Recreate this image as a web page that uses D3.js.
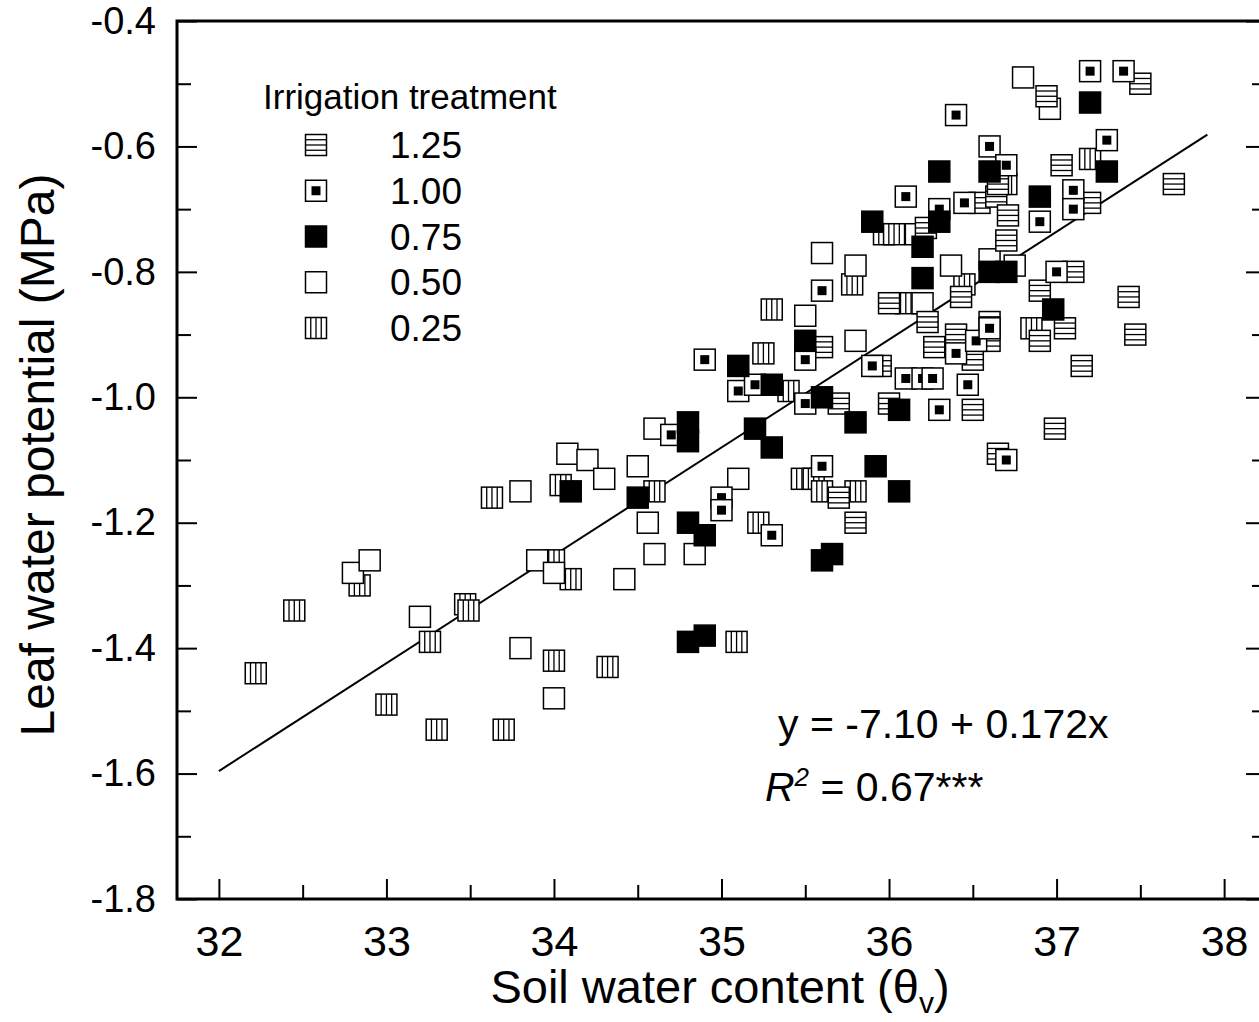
<!DOCTYPE html>
<html>
<head>
<meta charset="utf-8">
<script src="https://cdnjs.cloudflare.com/ajax/libs/d3/7.8.5/d3.min.js"></script>
<style>
  body { margin: 0; background: #fff; }
  svg { display: block; font-family: "Liberation Sans", Arial, Helvetica, sans-serif; }
</style>
</head>
<body>
<div class="chart"></div>
<script>
// soil water content (x) and leaf water potential (y), one array per treatment
var t125 = [[35.6,-0.92],[35.7,-1.01],[35.7,-1.16],[35.8,-1.20],[35.95,-0.95],[36.0,-0.85],[36.0,-1.01],
  [36.22,-0.73],[36.23,-0.88],[36.27,-0.92],[36.4,-0.90],[36.43,-0.84],[36.5,-0.94],[36.5,-1.02],
  [36.54,-0.69],[36.6,-0.88],[36.6,-0.91],[36.64,-0.68],[36.65,-0.66],[36.71,-0.71],[36.7,-0.75],
  [36.65,-1.09],[36.9,-0.83],[36.9,-0.91],[36.94,-0.52],[36.99,-1.05],[37.03,-0.63],[37.05,-0.89],
  [37.1,-0.80],[37.15,-0.95],[37.2,-0.69],[37.43,-0.84],[37.47,-0.90],[37.5,-0.50],[37.7,-0.66]];
var t100 = [[34.7,-1.06],[34.9,-0.94],[35.0,-1.16],[35.0,-1.18],[35.1,-0.99],[35.2,-0.98],[35.3,-1.22],
  [35.5,-0.94],[35.5,-1.01],[35.6,-0.83],[35.6,-1.11],[35.9,-0.95],[36.1,-0.68],[36.1,-0.97],
  [36.2,-0.97],[36.26,-0.97],[36.3,-0.70],[36.3,-1.02],[36.4,-0.55],[36.4,-0.93],[36.45,-0.69],
  [36.47,-0.98],[36.52,-0.91],[36.6,-0.60],[36.6,-0.89],[36.7,-0.63],[36.7,-1.10],[36.9,-0.72],
  [37.0,-0.80],[37.1,-0.67],[37.1,-0.70],[37.2,-0.48],[37.3,-0.59],[37.4,-0.48]];
var t075 = [[34.1,-1.15],[34.5,-1.16],[34.8,-1.04],[34.8,-1.07],[34.8,-1.20],[34.8,-1.39],[34.9,-1.22],
  [34.9,-1.38],[35.1,-0.95],[35.2,-1.05],[35.3,-0.98],[35.3,-1.08],[35.5,-0.91],[35.6,-1.00],
  [35.6,-1.26],[35.66,-1.25],[35.8,-1.04],[35.9,-0.72],[35.92,-1.11],[36.06,-1.02],[36.06,-1.15],
  [36.2,-0.76],[36.2,-0.81],[36.3,-0.64],[36.3,-0.72],[36.6,-0.64],[36.6,-0.80],[36.7,-0.80],
  [36.9,-0.68],[36.98,-0.86],[37.2,-0.53],[37.3,-0.64]];
var t050 = [[32.8,-1.28],[32.9,-1.26],[33.2,-1.35],[33.8,-1.15],[33.8,-1.40],[33.9,-1.26],[34.0,-1.28],
  [34.0,-1.48],[34.08,-1.09],[34.2,-1.10],[34.3,-1.13],[34.42,-1.29],[34.5,-1.11],[34.56,-1.20],
  [34.6,-1.05],[34.6,-1.25],[34.84,-1.25],[35.1,-1.13],[35.5,-0.87],[35.6,-0.77],[35.8,-0.79],
  [35.8,-0.91],[36.16,-0.74],[36.2,-0.85],[36.37,-0.79],[36.6,-0.78],[36.75,-0.79],[36.8,-0.49],
  [36.96,-0.54]];
var t025 = [[32.22,-1.44],[32.45,-1.34],[32.84,-1.30],[33.0,-1.49],[33.26,-1.39],[33.3,-1.53],
  [33.47,-1.33],[33.49,-1.34],[33.63,-1.16],[33.7,-1.53],[34.0,-1.26],[34.0,-1.42],[34.04,-1.14],
  [34.1,-1.29],[34.32,-1.43],[34.6,-1.15],[35.09,-1.39],[35.22,-1.20],[35.25,-0.93],[35.3,-0.86],
  [35.4,-0.99],[35.48,-1.13],[35.55,-1.13],[35.6,-1.15],[35.78,-0.82],[35.8,-1.15],[35.97,-0.74],
  [36.03,-0.74],[36.1,-0.85],[36.45,-0.82],[36.7,-0.66],[36.85,-0.89],[37.2,-0.62]];

var legendLabels = ["1.25", "1.00", "0.75", "0.50", "0.25"];
var xTicks = [32, 33, 34, 35, 36, 37, 38];
var xMinor = [32.5, 33.5, 34.5, 35.5, 36.5, 37.5];
var yTicks = [-0.4, -0.6, -0.8, -1.0, -1.2, -1.4, -1.6, -1.8];
var yMinor = [-0.5, -0.7, -0.9, -1.1, -1.3, -1.5, -1.7];
var fitIntercept = -7.10, fitSlope = 0.172, fitRange = [32, 37.9];

var width = 1259, height = 1022;
var plotLeft = 177, plotRight = 1266, plotTop = 21, plotBottom = 899;

var svg = d3.select(".chart").append("svg")
    .attr("width", width)
    .attr("height", height);

var x = d3.scaleLinear().domain([31.75, 38.25]).range([plotLeft, plotRight]);
var y = d3.scaleLinear().domain([-1.8, -0.4]).range([plotBottom, plotTop]);

function styleAxis(g) {
    g.select(".domain").remove();
    g.selectAll(".tick line").attr("stroke", "#000").attr("stroke-width", 2);
}

// x axis
svg.append("g")
    .attr("transform", "translate(0," + plotBottom + ")")
    .call(d3.axisBottom(x).tickValues(xTicks).tickSize(-20).tickPadding(26).tickFormat(d3.format("d")))
    .call(styleAxis)
    .selectAll("text").attr("font-size", 43).attr("fill", "#000").style("font-family", "inherit");
svg.append("g")
    .attr("transform", "translate(0," + plotBottom + ")")
    .call(d3.axisBottom(x).tickValues(xMinor).tickSize(-14).tickFormat(""))
    .call(styleAxis);

// y axis, left and right
svg.append("g")
    .attr("transform", "translate(" + plotLeft + ",0)")
    .call(d3.axisLeft(y).tickValues(yTicks).tickSize(-20).tickPadding(21).tickFormat(d3.format(".1f")))
    .call(styleAxis)
    .selectAll("text").attr("font-size", 38).attr("fill", "#000").style("font-family", "inherit")
    .text(function(d) { return d3.format(".1f")(d).replace("\u2212", "-"); });
svg.append("g")
    .attr("transform", "translate(" + plotLeft + ",0)")
    .call(d3.axisLeft(y).tickValues(yMinor).tickSize(-14).tickFormat(""))
    .call(styleAxis);
svg.append("g")
    .attr("transform", "translate(" + plotRight + ",0)")
    .call(d3.axisRight(y).tickValues(yTicks).tickSize(-20).tickFormat(""))
    .call(styleAxis);
svg.append("g")
    .attr("transform", "translate(" + plotRight + ",0)")
    .call(d3.axisRight(y).tickValues(yMinor).tickSize(-14).tickFormat(""))
    .call(styleAxis);

// frame
svg.append("path")
    .attr("d", "M" + plotRight + "," + plotTop + "H" + plotLeft + "V" + plotBottom + "H" + plotRight + "V" + plotTop)
    .attr("fill", "none").attr("stroke", "#000").attr("stroke-width", 3);

// regression line
svg.append("line")
    .attr("x1", x(fitRange[0])).attr("y1", y(fitIntercept + fitSlope * fitRange[0]))
    .attr("x2", x(fitRange[1])).attr("y2", y(fitIntercept + fitSlope * fitRange[1]))
    .attr("stroke", "#000").attr("stroke-width", 2);

// markers
function marker(g, type, size) {
    var h = size / 2;
    g.append("rect")
        .attr("x", -h).attr("y", -h).attr("width", size).attr("height", size)
        .attr("fill", type === "0.75" ? "#000" : "#fff")
        .attr("stroke", "#000").attr("stroke-width", 1.5);
    if (type === "1.25" || type === "0.25") {
        [1, 2, 3].forEach(function(k) {
            var p = -h + k * size / 4;
            g.append("line")
                .attr("x1", type === "1.25" ? -h : p).attr("x2", type === "1.25" ? h : p)
                .attr("y1", type === "1.25" ? p : -h).attr("y2", type === "1.25" ? p : h)
                .attr("stroke", "#000").attr("stroke-width", 1.3);
        });
    }
    if (type === "1.00") {
        g.append("rect").attr("x", -4.5).attr("y", -4.5).attr("width", 9).attr("height", 9).attr("fill", "#000");
    }
}

var series = [["0.25", t025], ["0.50", t050], ["1.25", t125], ["1.00", t100], ["0.75", t075]];
series.forEach(function(s) {
    svg.append("g").selectAll("g")
        .data(s[1])
        .enter().append("g")
        .attr("transform", function(d) { return "translate(" + x(d[0]) + "," + y(d[1]) + ")"; })
        .each(function() { marker(d3.select(this), s[0], 21); });
});

// legend
var legend = svg.append("g");
legend.append("text")
    .attr("x", 263).attr("y", 109)
    .attr("font-size", 35)
    .text("Irrigation treatment");
legendLabels.forEach(function(lab, i) {
    var ly = 145 + i * 45.75;
    var g = legend.append("g").attr("transform", "translate(316," + ly + ")");
    marker(g, lab, 21);
    legend.append("text")
        .attr("x", 390).attr("y", ly + 13)
        .attr("font-size", 37)
        .text(lab);
});

// equation
svg.append("text")
    .attr("x", 778).attr("y", 738)
    .attr("font-size", 41)
    .text("y = -7.10 + 0.172x");
var r2 = svg.append("text")
    .attr("x", 765).attr("y", 801)
    .attr("font-size", 41);
r2.append("tspan").attr("font-style", "italic").text("R");
r2.append("tspan").attr("font-size", 26).attr("dy", -15).attr("font-style", "italic").text("2");
r2.append("tspan").attr("dy", 15).text(" = 0.67***");

// axis titles
svg.append("text")
    .attr("transform", "translate(54,455) rotate(-90)")
    .attr("text-anchor", "middle")
    .attr("font-size", 48)
    .text("Leaf water potential (MPa)");
var xt = svg.append("text")
    .attr("x", 720).attr("y", 1003)
    .attr("text-anchor", "middle")
    .attr("font-size", 47);
xt.append("tspan").text("Soil water content (\u03b8");
xt.append("tspan").attr("font-size", 30).attr("dy", 10).text("v");
xt.append("tspan").attr("dy", -10).text(")");
</script>
</body>
</html>
